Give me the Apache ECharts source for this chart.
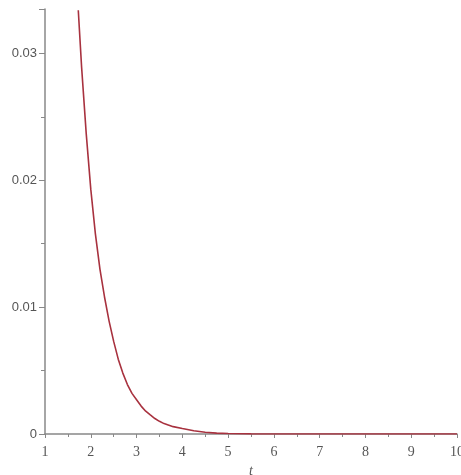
<!DOCTYPE html>
<html>
<head>
<meta charset="utf-8">
<script src="https://cdn.jsdelivr.net/npm/echarts@6/dist/echarts.min.js"></script>
<style>
html,body{margin:0;padding:0;background:#fff;}
#c{width:461px;height:475px;}
</style>
</head>
<body>
<div id="c"></div>
<script>
// data
var tVals = [1.727, 1.8, 1.9, 2.0, 2.1, 2.2, 2.3, 2.4, 2.5, 2.6, 2.7, 2.8, 2.9, 3.0, 3.1, 3.2, 3.3, 3.4, 3.5, 3.6, 3.8, 4.0, 4.25, 4.5, 4.75, 5.0, 5.5, 6, 7, 8, 9, 10];
var yVals = [0.0334, 0.0289, 0.0237, 0.0193, 0.0158, 0.0130, 0.0108, 0.0089, 0.0073, 0.0059, 0.0048, 0.0039, 0.0032, 0.0027, 0.0022, 0.0018, 0.00150, 0.00122, 0.00100, 0.00082, 0.00058, 0.00043, 0.00025, 0.00014, 0.00007, 0.00004, 0.00001, 0, 0, 0, 0, 0];
var xTickLabels = ['1','2','3','4','5','6','7','8','9','10'];
var yTickLabels = ['0','0.01','0.02','0.03'];

var chart = echarts.init(document.getElementById('c'), null, {renderer:'canvas'});
var pts = tVals.map(function(t,i){return [t, yVals[i]];});
chart.setOption({
  animation:false,
  backgroundColor:'#ffffff',
  grid:{left:45, right:4, top:9, bottom:41, containLabel:false, outerBoundsMode:'none'},
  xAxis:{
    type:'value', min:1, max:10, interval:1,
    name:'t', nameLocation:'middle', nameGap:28,
    nameTextStyle:{fontFamily:'Liberation Serif', fontStyle:'italic', fontSize:14, color:'#555'},
    axisLine:{show:true, lineStyle:{color:'#888', width:1.5}},
    axisTick:{show:true, length:4, lineStyle:{color:'#888'}},
    minorTick:{show:true, splitNumber:2, length:3, lineStyle:{color:'#888'}},
    splitLine:{show:false},
    axisLabel:{margin:11, fontFamily:'Liberation Serif', fontSize:14, color:'#555',
      formatter:function(v){ return xTickLabels[Math.round(v)-1] || ''; }}
  },
  yAxis:{
    type:'value', min:0, max:0.0335, interval:0.01,
    axisLine:{show:true, lineStyle:{color:'#888', width:1.5}},
    axisTick:{show:true, length:6, lineStyle:{color:'#888'}},
    minorTick:{show:true, splitNumber:2, length:4, lineStyle:{color:'#888'}},
    splitLine:{show:false},
    axisLabel:{margin:8, showMaxLabel:false, fontFamily:'Liberation Sans', fontSize:13, color:'#555',
      formatter:function(v){ var i=Math.round(v/0.01); return (Math.abs(v-i*0.01)<1e-9)? (yTickLabels[i]||'') : ''; }}
  },
  series:[{
    type:'line', data:pts, showSymbol:false, smooth:false,
    lineStyle:{color:'#a8323f', width:1.6}, z:3
  }]
});
</script>
</body>
</html>
